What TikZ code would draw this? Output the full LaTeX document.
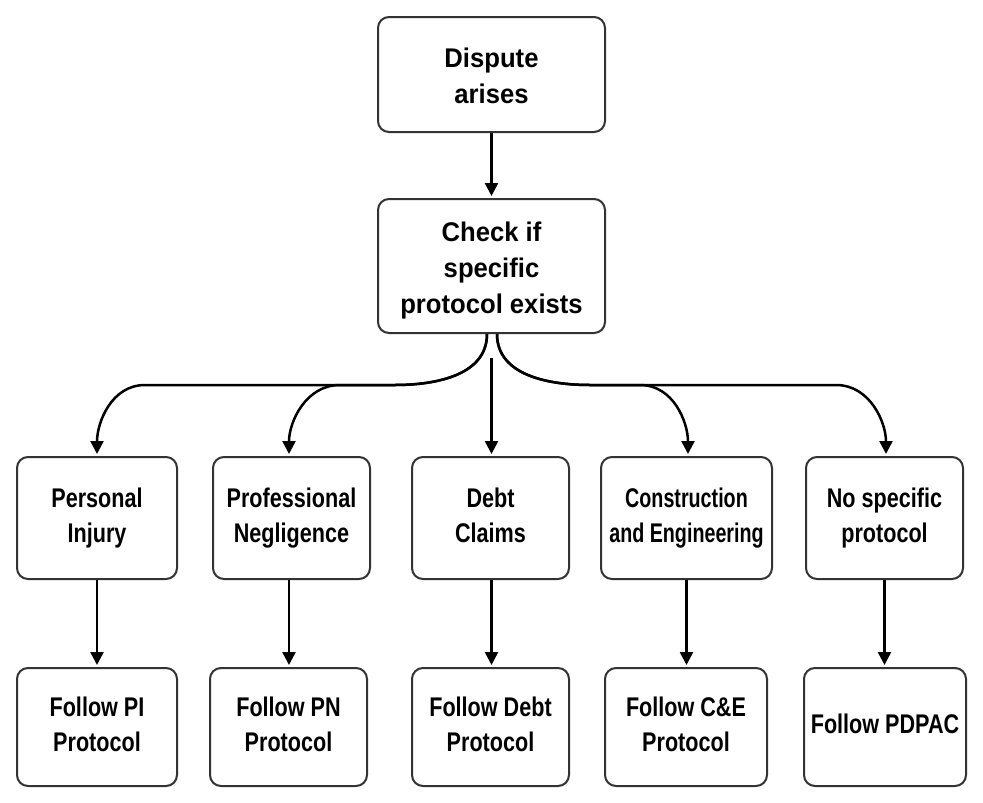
\documentclass[tikz,border=0pt]{standalone}
\usepackage{fontspec}
\setmainfont{Liberation Sans}
\newfontfamily\topf{Liberation Sans}[FakeStretch=0.95]
\newfontfamily\condf{Liberation Sans}[FakeStretch=0.8]
\newfontfamily\narrf{Liberation Sans}[FakeStretch=0.73]
\newcommand\toprule{\rule{0pt}{28pt}}
\usetikzlibrary{arrows.meta}
\begin{document}
\begin{tikzpicture}[x=1pt,y=-1pt,
  box/.style={draw=black!80, line width=2pt, rounded corners=11pt, align=center,
    inner sep=0pt, fill=white, execute at begin node=\vphantom{Ay}, execute at end node=\vphantom{Ay}},
  topbox/.style={box, font=\topf\bfseries\fontsize{27}{36}\selectfont},
  catbox/.style={box, minimum height=122pt, font=\condf\bfseries\fontsize{27}{35}\selectfont},
  folbox/.style={box, minimum height=118pt, font=\condf\bfseries\fontsize{27}{35}\selectfont},
  arr/.style={line width=2.5pt, -{Triangle[width=13pt,length=13pt]}, shorten >=2pt}]
\useasboundingbox[fill=white] (0,0) rectangle (983,803);

\node[topbox, minimum width=227pt, minimum height=115pt] (dispute) at (491.5,74.5) {\toprule Dispute\\arises};
\node[topbox, minimum width=227pt, minimum height=134pt] (check) at (491.5,266) {\toprule Check if\\specific\\protocol exists};

\node[catbox, minimum width=160pt] (pi) at (97,518) {Personal\\Injury};
\node[catbox, minimum width=157pt] (pn) at (291.5,518) {Professional\\Negligence};
\node[catbox, minimum width=157pt] (debt) at (490.5,518) {Debt\\Claims};
\node[catbox, minimum width=171pt, font=\narrf\bfseries\fontsize{27}{35}\selectfont] (ce) at (686.5,518) {Construction\\and Engineering};
\node[catbox, minimum width=157pt] (nsp) at (884.5,518) {No specific\\protocol};

\node[folbox, minimum width=160pt] (fpi) at (97,727) {Follow PI\\Protocol};
\node[folbox, minimum width=157pt] (fpn) at (288.5,727) {Follow PN\\Protocol};
\node[folbox, minimum width=157pt] (fdebt) at (490.5,727) {Follow Debt\\Protocol};
\node[folbox, minimum width=162pt] (fce) at (686,727) {Follow C\&E\\Protocol};
\node[folbox, minimum width=162pt] (fpdpac) at (885,727) {Follow PDPAC};

\draw[arr] (dispute) -- (check);

\coordinate (cl) at ([xshift=-4.5pt]check.south);
\coordinate (cr) at ([xshift=5.5pt]check.south);
\coordinate (hl) at (395,385);
\coordinate (hr) at (590,385);

\draw[arr] (cl) to[out=-90,in=0] (hl) -- (145,385) to[out=180,in=90] (pi.north);
\draw[arr] (cl) to[out=-90,in=0] (hl) -- (340,385) to[out=180,in=90] ([xshift=-2.5pt]pn.north);
\draw[arr] ([yshift=-24pt]check.south) -- (check.south |- debt.north);
\draw[arr] (cr) to[out=-90,in=180] (hr) -- (640,385) to[out=0,in=90] ([xshift=1.5pt]ce.north);
\draw[arr] (cr) to[out=-90,in=180] (hr) -- (836,385) to[out=0,in=90] ([xshift=1.5pt]nsp.north);

\draw[arr] (pi.south) -- (pi.south |- fpi.north);
\draw[arr] ([xshift=-2.5pt]pn.south) -- ([xshift=-2.5pt]pn.south |- fpn.north);
\draw[arr] ([xshift=1pt]debt.south) -- ([xshift=1pt]debt.south |- fdebt.north);
\draw[arr] (ce.south) -- (ce.south |- fce.north);
\draw[arr] (nsp.south) -- (nsp.south |- fpdpac.north);
\end{tikzpicture}
\end{document}
